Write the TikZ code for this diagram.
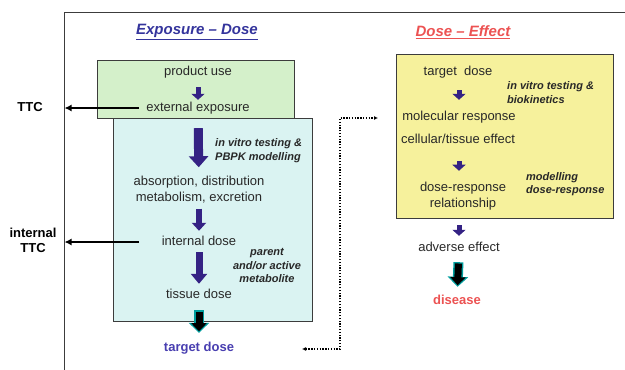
\documentclass[tikz,border=0pt]{standalone}
\usepackage{fontspec}
\setmainfont{Liberation Sans}
\usetikzlibrary{arrows.meta}
\definecolor{greenfill}{RGB}{212,240,202}
\definecolor{cyanfill}{RGB}{218,243,242}
\definecolor{yellowfill}{RGB}{246,241,156}
\definecolor{boxline}{RGB}{60,60,60}
\definecolor{textgray}{RGB}{40,40,40}
\definecolor{arrowpurple}{RGB}{52,34,132}
\definecolor{titleblue}{RGB}{52,52,156}
\definecolor{doseblue}{RGB}{72,62,176}
\definecolor{effectred}{RGB}{236,82,82}
\definecolor{outlineteal}{RGB}{0,158,158}
\begin{document}
\begin{tikzpicture}[x=1pt, y=-1pt,
  txtml/.style={font=\fontsize{13}{16}\selectfont, text=textgray, inner sep=1pt,
    align=center},
  txt/.style={txtml, text height=9.5pt, text depth=2.5pt},
  note/.style={font=\fontsize{11}{13.5}\selectfont\bfseries\itshape, text=textgray,
    inner sep=0pt},
  heading/.style={font=\fontsize{15}{18}\selectfont\bfseries\itshape, inner sep=0pt},
  box/.style={draw=boxline, line width=0.9pt, inner sep=0pt},
  smallarrow/.style={arrowpurple, line width=5pt, -{Triangle[length=6pt, width=13pt]}},
  bigarrow/.style={arrowpurple, line width=9pt, -{Triangle[length=11pt, width=19pt]}},
  ttcarrow/.style={black, line width=2pt, -{Latex[length=7pt, width=7pt]}},
  dotlink/.style={black, line width=1.3pt, dash pattern=on 1.3pt off 1.5pt,
    {Latex[length=4pt, width=4pt]}-{Latex[length=4pt, width=4pt]}}]
  \useasboundingbox (0,0) rectangle (625,370);
  \def\blackarrow#1#2#3#4{%
    \draw[outlineteal, line width=10pt, -{Triangle[length=10pt, width=20pt]},
      shorten <=#3, shorten >=#4] (#1) -- (#2);
    \draw[black, line width=7pt, -{Triangle[length=8pt, width=15pt]},
      shorten <=#3+1.3pt, shorten >=#4+1.6pt] (#1) -- (#2);}

  \coordinate (ax) at (64.5,12);
  \draw[boxline, line width=1pt] (64.5,370) -- (ax) -- (625,12);

  \node[heading, text=titleblue] (expt) at (197,32) {\underline{Exposure -- Dose}};
  \node[heading, text=effectred] (efft) at (463,32) {\underline{Dose -- Effect}};

  \node[box, fill=greenfill, minimum width=197pt, minimum height=58pt] (gbox) at (195.5,89) {};
  \node[box, fill=cyanfill, minimum width=199pt, minimum height=203pt] (cbox) at (212.5,219.5) {};
  \node[box, fill=yellowfill, minimum width=217pt, minimum height=164pt] (ybox) at (504.5,136) {};

  \node[txt] (pu) at (198,72) {product use};
  \node[txt] (ee) at (198,108) {external exposure};
  \node[txtml] (adme) at (199,190) {absorption, distribution\\metabolism, excretion};
  \node[txt] (id) at (199,242) {internal dose};
  \node[txt] (td) at (199,295) {tissue dose};
  \node[txt, font=\fontsize{13}{16}\selectfont\bfseries, text=doseblue] (tgt) at (199,348) {target dose};

  \node[txt, font=\fontsize{13}{16}\selectfont\bfseries, text=black] (ttc) at (30,108) {TTC};
  \node[txtml, font=\fontsize{13}{15}\selectfont\bfseries, text=black] (ittc) at (33,240) {internal\\TTC};

  \node[note, anchor=west, align=left] (pbpk) at (215,150.5) {in vitro testing \&\\PBPK modelling};
  \node[note, align=center] (meta) at (267,265.5) {parent\\and/or active\\metabolite};

  \node[txt] (tdose) at (458,72) {target\ \ dose};
  \node[txt] (mr) at (459,117) {molecular response};
  \node[txt] (ce) at (458,140) {cellular/tissue effect};
  \node[txtml] (drr) at (463,196) {dose-response\\relationship};
  \node[txt] (ae) at (459,248) {adverse effect};
  \node[txt, font=\fontsize{13}{16}\selectfont\bfseries, text=effectred] (dis) at (457,301) {disease};

  \node[note, anchor=west, align=left] (biok) at (507,92.5) {in vitro testing \&\\biokinetics};
  \node[note, anchor=west, align=left] (mdr) at (526,184) {modelling\\dose-response};

  \draw[smallarrow, shorten <=8pt, shorten >=1pt] (pu) -- (ee);
  \draw[bigarrow, shorten <=13pt, shorten >=8pt] (ee) -- (adme);
  \draw[smallarrow, line width=6pt, -{Triangle[length=8pt, width=14pt]},
    shorten <=4pt, shorten >=4pt] (adme) -- (id);
  \draw[bigarrow, line width=7pt, -{Triangle[length=10pt, width=16pt]},
    shorten <=3pt, shorten >=4pt] (id) -- (td);
  \blackarrow{td}{tgt}{8pt}{8pt}

  \draw[smallarrow, shorten <=11pt, shorten >=10pt] (tdose.south -| mr) -- (mr);
  \draw[smallarrow, shorten <=14pt, shorten >=10pt] (mr.south |- ce.south) -- (mr.south |- drr.north);
  \draw[smallarrow, shorten <=14pt, shorten >=5pt] (drr.south -| ae) -- (ae);
  \blackarrow{ae}{dis}{7pt}{7pt}

  \coordinate (ttcstart) at (139,0);
  \draw[ttcarrow] (ee.west -| ttcstart) -- (ee.west -| ax);
  \draw[ttcarrow] (id.west -| ttcstart) -- (id.west -| ax);

  \coordinate (dotA) at (302,349);
  \coordinate (dotbend) at (340,118);
  \coordinate (dotB) at (378,118);
  \draw[dotlink] (dotA) -| (dotbend) -- (dotB);
\end{tikzpicture}
\end{document}
